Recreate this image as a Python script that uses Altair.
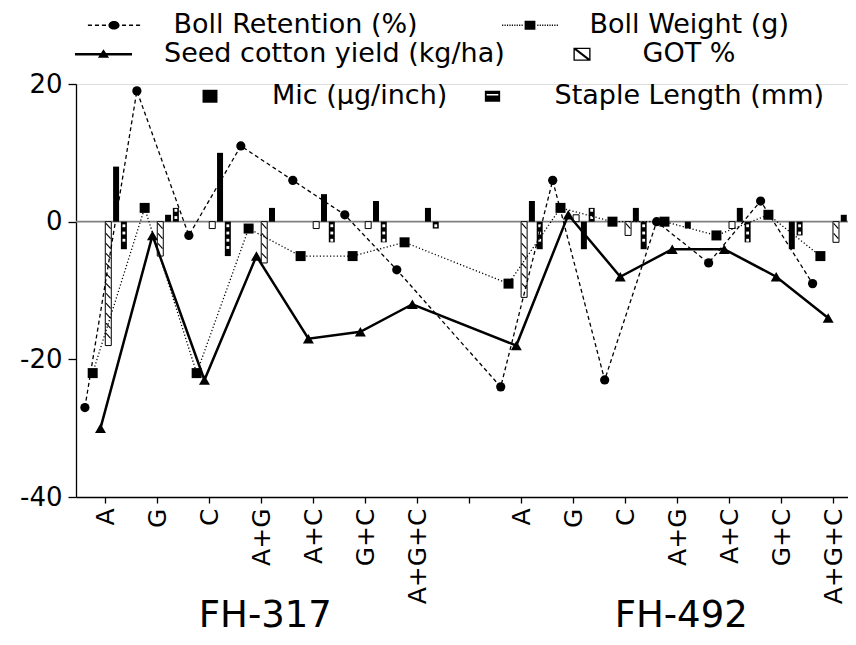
import altair as alt
import pandas as pd
import numpy as np

FONT = "DejaVu Sans"

# ---------------- data ----------------
treatments = ["A", "G", "C", "A+G", "A+C", "G+C", "A+G+C"]
varieties = ["FH-317", "FH-492"]

series_names = ["Boll Retention (%)", "Boll Weight (g)", "Seed cotton yield (kg/ha)",
                "GOT %", "Mic (µg/inch)", "Staple Length (mm)"]

boll_retention_fh317 = [-27, 19, -2, 11, 6, 1, -7]
boll_retention_fh492 = [-24, 6, -23, 0, -6, 3, -9]

boll_weight_fh317 = [-22, 2, -22, -1, -5, -5, -3]
boll_weight_fh492 = [-9, 2, 0, 0, -2, 1, -5]

seed_cotton_fh317 = [-30, -2, -23, -5, -17, -16, -12]
seed_cotton_fh492 = [-18, 1, -8, -4, -4, -8, -14]

got_fh317 = [-18, -5, -1, -6, -1, -1, 0]
got_fh492 = [-11, 1, -2, 0, -1, 0, -3]

mic_fh317 = [8, 1, 10, 2, 4, 3, 2]
mic_fh492 = [3, -4, 2, -1, 2, -4, 1]

staple_fh317 = [-4, 2, -5, 0, -3, -3, -1]
staple_fh492 = [-4, 2, -4, 0, -3, -2, -1]

y_ticks = [-40, -20, 0, 20]

# ---------------- build tables ----------------
series_values = {
    series_names[0]: boll_retention_fh317 + boll_retention_fh492,
    series_names[1]: boll_weight_fh317 + boll_weight_fh492,
    series_names[2]: seed_cotton_fh317 + seed_cotton_fh492,
    series_names[3]: got_fh317 + got_fh492,
    series_names[4]: mic_fh317 + mic_fh492,
    series_names[5]: staple_fh317 + staple_fh492,
}
n_tr = len(treatments)
slot = n_tr + 1  # one empty slot between the varieties
offsets = {name: -0.395 + 0.15 * k for k, name in enumerate(series_names)}

rows = []
for name in series_names:
    vals = series_values[name]
    for vi, var in enumerate(varieties):
        for ti, tr in enumerate(treatments):
            idx = vi * slot + ti
            rows.append(dict(series=name, variety=var, treatment=tr, idx=idx,
                             x=idx + offsets[name], value=vals[vi * n_tr + ti], base=0))
df = pd.DataFrame(rows)

GOT, MIC, STAPLE = series_names[3], series_names[4], series_names[5]

# hatch strokes inside GOT bars
hatch = []
for _, r in df[df.series == GOT].iterrows():
    mag, s = abs(r.value), np.sign(r.value)
    d = 0.25
    while d + 0.75 <= mag - 0.1:
        hatch.append(dict(x1=r.x - 0.045, x2=r.x + 0.045, y1=s * d, y2=s * (d + 0.75)))
        d += 1.45
hatch_df = pd.DataFrame(hatch)

# white marks inside Staple Length bars
dots = []
for _, r in df[df.series == STAPLE].iterrows():
    mag, s = abs(r.value), np.sign(r.value)
    d = 0.6
    while d <= mag - 0.3:
        dots.append(dict(x=r.x, y=s * d))
        d += 1.05
dots_df = pd.DataFrame(dots)

group_df = pd.DataFrame({"variety": varieties,
                         "gx": [vi * slot + (n_tr - 1) / 2 for vi in range(len(varieties))]})
zero_df = pd.DataFrame({"v": [0]})
legend_df = pd.DataFrame({"series": series_names})

# ---------------- scales / axes ----------------
n_pos = slot + n_tr
x_scale = alt.Scale(domain=[-0.47, n_pos - 0.81], nice=False, zero=False)
y_scale = alt.Scale(domain=[y_ticks[0], y_ticks[-1]], nice=False, zero=False)

label_list = treatments + [""] + treatments
label_expr = "[" + ",".join("'" + t + "'" for t in label_list) + "][datum.value]"

x_axis = alt.Axis(values=list(range(n_pos)), labelExpr=label_expr, labelAngle=-90,
                  labelFont=FONT, labelFontSize=25, labelColor="black",
                  tickColor="black", domainColor="black", tickSize=6, tickWidth=1.3,
                  domainWidth=1.3, labelPadding=5, grid=False, title=None,
                  labelFlush=False, labelOverlap=False, labelBound=False)
y_axis = alt.Axis(values=y_ticks, labelExpr="'' + datum.value", labelFont=FONT,
                  labelFontSize=26, labelColor="black", tickColor="black",
                  domainColor="black", tickSize=8, tickWidth=1.3, domainWidth=1.3,
                  labelPadding=6, grid=False, title=None)


def X(field):
    return alt.X(field, type="quantitative", scale=x_scale, axis=x_axis)


def Y(field):
    return alt.Y(field, type="quantitative", scale=y_scale, axis=y_axis)


def series_chart(name, data=df):
    return alt.Chart(data).transform_filter(alt.datum.series == name)


# ---------------- layers ----------------
zero_line = alt.Chart(zero_df).mark_rule(color="#808080", strokeWidth=1.6).encode(y=Y("v"))

got_bars = series_chart(GOT).transform_filter(alt.datum.value != 0).mark_bar(
    size=6, fill="white", stroke="black", strokeWidth=1, clip=True
).encode(x=X("x"), y=Y("value"), y2="base")

got_hatch = alt.Chart(hatch_df).mark_rule(color="black", strokeWidth=1.1, clip=True).encode(
    x=X("x1"), x2="x2", y=Y("y1"), y2="y2")

staple_bars = series_chart(STAPLE).transform_filter(alt.datum.value != 0).mark_bar(
    size=6, color="black", clip=True
).encode(x=X("x"), y=Y("value"), y2="base")

staple_dots = alt.Chart(dots_df).mark_square(size=8, color="white", opacity=1, clip=True).encode(
    x=X("x"), y=Y("y"))

mic_bars = series_chart(MIC).transform_filter(alt.datum.value != 0).mark_bar(
    size=6, color="black", clip=True
).encode(x=X("x"), y=Y("value"), y2="base")

br_line = series_chart(series_names[0]).mark_line(
    color="black", strokeWidth=1.3, strokeDash=[4, 3]).encode(x=X("x"), y=Y("value"), order="idx")
br_pts = series_chart(series_names[0]).mark_point(
    shape="circle", filled=True, color="black", size=85, opacity=1).encode(x=X("x"), y=Y("value"))

bw_line = series_chart(series_names[1]).mark_line(
    color="black", strokeWidth=1.3, strokeDash=[1.2, 2.2]).encode(x=X("x"), y=Y("value"), order="idx")
bw_pts = series_chart(series_names[1]).mark_point(
    shape="square", filled=True, color="black", size=100, opacity=1).encode(x=X("x"), y=Y("value"))

sc_line = series_chart(series_names[2]).mark_line(
    color="black", strokeWidth=2.5).encode(x=X("x"), y=Y("value"), order="idx")
sc_pts = series_chart(series_names[2]).mark_point(
    shape="triangle-up", filled=True, color="black", size=120, opacity=1).encode(x=X("x"), y=Y("value"))

group_text = alt.Chart(group_df).mark_text(
    font=FONT, fontSize=37, color="black", baseline="alphabetic", align="center", dx=4
).encode(x=X("gx"), y=alt.value(543), text="variety:N")


# ---------------- legend symbols (custom paths, unit = 9 px) ----------------
def rect(x1, y1, x2, y2):
    return f"M{x1:.3f},{y1:.3f}H{x2:.3f}V{y2:.3f}H{x1:.3f}Z"


def hole(x1, y1, x2, y2):
    return f"M{x1:.3f},{y1:.3f}V{y2:.3f}H{x2:.3f}V{y1:.3f}Z"


def ellipse(rx, ry):
    return f"M{rx},0A{rx},{ry} 0 1,1 {-rx},0A{rx},{ry} 0 1,1 {rx},0Z"


dash_p = ""
for k in range(3):
    a = -2.9 + k * 0.78
    dash_p += rect(a, -0.07, a + 0.45, 0.07) + rect(-a - 0.45, -0.07, -a, 0.07)
sym_retention = dash_p + ellipse(0.62, 0.48)

dot_p = ""
for k in range(9):
    a = -3.1 + k * 0.27
    dot_p += rect(a, -0.07, a + 0.13, 0.07) + rect(-a - 0.13, -0.07, -a, 0.07)
sym_weight = dot_p + rect(-0.6, -0.5, 0.6, 0.5)

sym_yield = rect(-3.17, -0.145, 3.17, 0.145) + "M0,-0.55L0.62,0.4L-0.62,0.4Z"

sym_got = (rect(-0.95, -0.72, 0.95, 0.72) + hole(-0.8, -0.57, 0.8, 0.57)
           + "M-0.95,-0.72L-0.75,-0.72L0.95,0.57L0.95,0.72L0.75,0.72L-0.95,-0.57Z")
sym_mic = rect(-0.83, -0.72, 0.83, 0.72)
sym_staple = rect(-0.85, -0.6, 0.85, 0.6) + hole(-0.65, -0.25, 0.65, -0.08)


def legend_layer(names, paths, lx, ly, label_offset, col_pad):
    return alt.Chart(legend_df).transform_filter("false").mark_point(
        filled=True, color="black", size=324, opacity=1
    ).encode(
        shape=alt.Shape("series:N", scale=alt.Scale(domain=names, range=paths),
                        legend=alt.Legend(orient="none", legendX=lx, legendY=ly, columns=2,
                                          title=None, labelFont=FONT, labelFontSize=27,
                                          labelColor="black", labelLimit=800,
                                          labelOffset=label_offset, columnPadding=col_pad,
                                          rowPadding=0, padding=0, symbolSize=324,
                                          symbolStrokeWidth=0, symbolFillColor="black",
                                          symbolStrokeColor="black", symbolOpacity=1,
                                          symbolOffset=0))
    )


leg1 = legend_layer([series_names[0], series_names[1]], [sym_retention, sym_weight], 24.5, -72.5, 46, 83)
leg2 = legend_layer([series_names[2], series_names[3]], [sym_yield, sym_got], 14, -43.5, 47, 63.5)
leg3 = legend_layer([series_names[4], series_names[5]], [sym_mic, sym_staple], 120.5, -1.5, 48.5, 31.5)

chart = alt.layer(
    zero_line, got_bars, got_hatch, staple_bars, staple_dots, mic_bars,
    br_line, bw_line, sc_line, br_pts, bw_pts, sc_pts, group_text,
    leg1, leg2, leg3
).resolve_scale(shape="independent").properties(
    width=772, height=413,
    padding={"left": 68, "top": 76, "right": 0, "bottom": 138},
    autosize=alt.AutoSizeParams(type="none"),
    background="white",
).configure_view(stroke=None).configure(font=FONT)

chart.save("out.html", embed_options={"renderer": "svg", "actions": False})
